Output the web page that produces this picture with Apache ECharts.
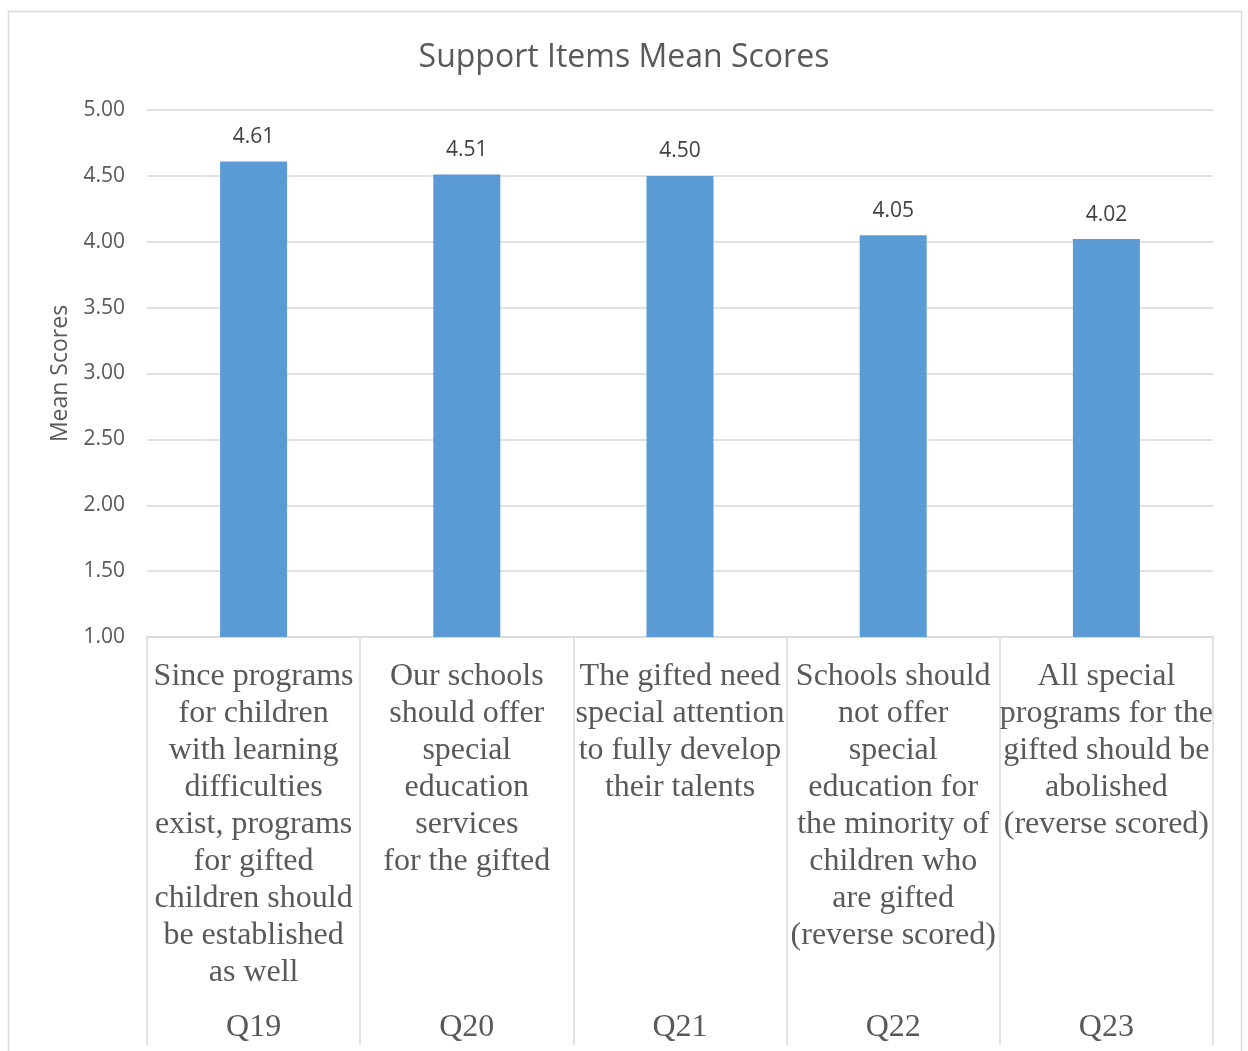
<!DOCTYPE html>
<html>
<head>
<meta charset="utf-8">
<title>Support Items Mean Scores</title>
<script src="https://cdn.jsdelivr.net/npm/echarts@6/dist/echarts.min.js"></script>
<style>
  html, body { margin: 0; padding: 0; background: #ffffff; }
  #chart { width: 1248px; height: 1051px; }
</style>
</head>
<body>
<div id="chart"></div>
<script>
// Survey items (question codes) and their wording, line-broken for the axis
const itemCodes = ['Q19', 'Q20', 'Q21', 'Q22', 'Q23'];
const itemTexts = [
  'Since programs\nfor children\nwith learning\ndifficulties\nexist, programs\nfor gifted\nchildren should\nbe established\nas well',
  'Our schools\nshould offer\nspecial\neducation\nservices\nfor the gifted',
  'The gifted need\nspecial attention\nto fully develop\ntheir talents',
  'Schools should\nnot offer\nspecial\neducation for\nthe minority of\nchildren who\nare gifted\n(reverse scored)',
  'All special\nprograms for the\ngifted should be\nabolished\n(reverse scored)'
];
// Mean score per item
const meanScores = [4.61, 4.51, 4.50, 4.05, 4.02];

// Value axis range
const yMin = 1;
const yMax = 5;
const yStep = 0.5;

const textGray = '#595959';
const lineGray = '#d9d9d9';
const serif = '"Liberation Serif", "Times New Roman", serif';
const sans = '"Open Sans", "Noto Sans", sans-serif';

const chart = echarts.init(document.getElementById('chart'), null, { renderer: 'canvas' });

chart.setOption({
  backgroundColor: '#ffffff',
  animation: false,
  title: {
    text: 'Support Items Mean Scores',
    left: 'center',
    top: 37,
    textStyle: { fontFamily: sans, fontSize: 32, fontWeight: 'normal', color: textGray }
  },
  graphic: [{
    type: 'rect',
    shape: { x: 8.5, y: 11.5, width: 1233, height: 1100 },
    style: { fill: 'none', stroke: lineGray, lineWidth: 1.5 },
    silent: true,
    z: -1
  }],
  grid: { left: 147, right: 35, top: 110, bottom: 414, containLabel: false },
  xAxis: [
    {
      type: 'category',
      data: itemTexts,
      position: 'bottom',
      axisLine: { show: true, lineStyle: { color: lineGray, width: 1.5 } },
      axisTick: { show: true, length: 408, interval: 0, lineStyle: { color: lineGray, width: 1.5 } },
      axisLabel: {
        interval: 0,
        margin: 21,
        fontFamily: serif,
        fontSize: 32,
        lineHeight: 37,
        color: textGray,
        verticalAlign: 'top',
        align: 'center'
      },
      splitLine: { show: false }
    },
    {
      type: 'category',
      data: itemCodes,
      position: 'bottom',
      offset: 375,
      axisLine: { show: false },
      axisTick: { show: false },
      axisLabel: {
        interval: 0,
        margin: 0,
        fontFamily: serif,
        fontSize: 32,
        color: textGray,
        verticalAlign: 'top'
      },
      splitLine: { show: false }
    }
  ],
  yAxis: {
    type: 'value',
    min: yMin,
    max: yMax,
    interval: yStep,
    name: 'Mean Scores',
    nameLocation: 'middle',
    nameGap: 75,
    nameRotate: 90,
    nameTextStyle: { fontFamily: sans, fontSize: 23, color: textGray },
    axisLine: { show: false },
    axisTick: { show: false },
    axisLabel: {
      margin: 22,
      padding: [4, 0, 0, 0],
      fontFamily: sans,
      fontSize: 21,
      color: textGray,
      formatter: v => v.toFixed(2)
    },
    splitLine: { show: true, lineStyle: { color: lineGray, width: 1.5 } }
  },
  series: [{
    type: 'bar',
    xAxisIndex: 0,
    data: meanScores,
    barWidth: 67,
    itemStyle: { color: '#5b9bd5' },
    label: {
      show: true,
      position: 'top',
      distance: 14,
      fontFamily: sans,
      fontSize: 21,
      color: '#404040',
      formatter: p => p.value.toFixed(2)
    }
  }]
});
</script>
</body>
</html>
